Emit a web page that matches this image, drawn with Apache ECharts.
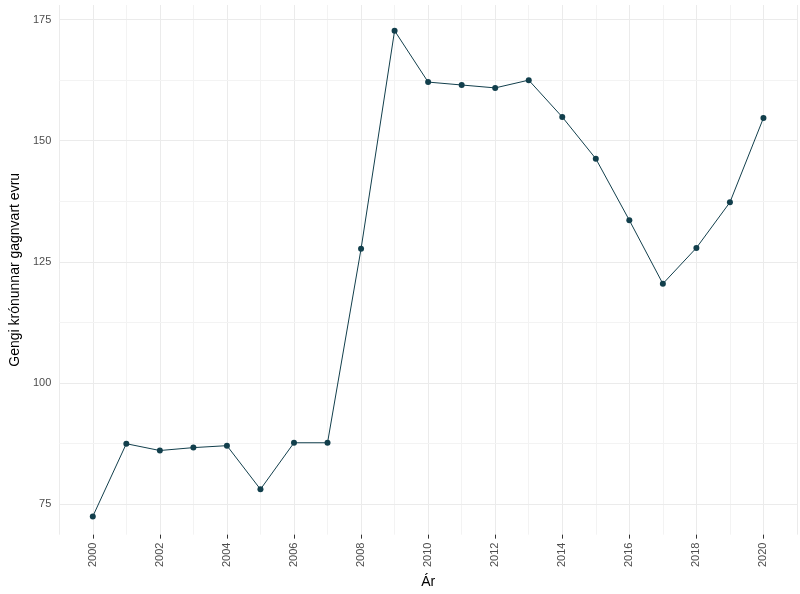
<!DOCTYPE html>
<html><head><meta charset="utf-8">
<script src="https://cdn.jsdelivr.net/npm/echarts@6/dist/echarts.min.js"></script>
<style>html,body{margin:0;padding:0;background:#fff}#c{width:800px;height:594px}</style>
</head><body><div id="c"></div>
<script>
var years = [2000,2001,2002,2003,2004,2005,2006,2007,2008,2009,2010,2011,2012,2013,2014,2015,2016,2017,2018,2019,2020];
var gengi = [72.5,87.5,86.1,86.7,87.1,78.1,87.7,87.7,127.7,172.7,162.1,161.5,160.9,162.5,154.9,146.3,133.6,120.5,127.9,137.3,154.7];
var yMajor = [75, 100, 125, 150, 175];
var yMinor = [87.5, 112.5, 137.5, 162.5];

var myChart = echarts.init(document.getElementById('c'));
var gridLines = yMajor.map(function (v) { return { yAxis: v, lineStyle: { color: '#ebebeb' } }; })
  .concat(yMinor.map(function (v) { return { yAxis: v, lineStyle: { color: '#f3f3f3' } }; }));
var option = {
  animation: false,
  grid: { left: 30, right: 3, top: 5, bottom: 57 },
  xAxis: {
    type: 'value', min: 1999, max: 2021, splitNumber: 10,
    name: 'Ár', nameLocation: 'middle', nameGap: 40,
    nameTextStyle: { color: '#000', fontSize: 14, fontFamily: 'Liberation Sans' },
    axisLine: { show: false },
    axisTick: { show: true, lineStyle: { color: '#333' }, length: 4 },
    axisLabel: { rotate: 90, color: '#4d4d4d', fontSize: 11, fontFamily: 'Liberation Sans',
      showMinLabel: false, showMaxLabel: false,
      formatter: function (v) { return v % 2 === 0 ? String(v) : ''; } },
    splitLine: { show: true, lineStyle: { color: '#ebebeb' } },
    minorTick: { show: false, splitNumber: 2 },
    minorSplitLine: { show: true, lineStyle: { color: '#f3f3f3' } }
  },
  yAxis: {
    type: 'value', min: 68.75, max: 178, interval: 6.25,
    name: 'Gengi krónunnar gagnvart evru', nameLocation: 'middle', nameGap: 30,
    nameTextStyle: { color: '#000', fontSize: 14, fontFamily: 'Liberation Sans' },
    axisLine: { show: false }, axisTick: { show: false },
    axisLabel: { color: '#4d4d4d', fontSize: 11, fontFamily: 'Liberation Sans',
      showMinLabel: false, showMaxLabel: false,
      formatter: function (v) { return v % 25 === 0 ? String(v) : ''; } },
    splitLine: { show: false }
  },
  series: [{
    type: 'line',
    data: years.map(function (y, i) { return [y, gengi[i]]; }),
    symbol: 'circle', symbolSize: 6,
    lineStyle: { color: '#123f4c', width: 1 },
    itemStyle: { color: '#123f4c' },
    markLine: { silent: true, symbol: 'none', label: { show: false }, z: 0,
      lineStyle: { type: 'solid', width: 1 }, data: gridLines }
  }]
};
myChart.setOption(option);
</script></body></html>
